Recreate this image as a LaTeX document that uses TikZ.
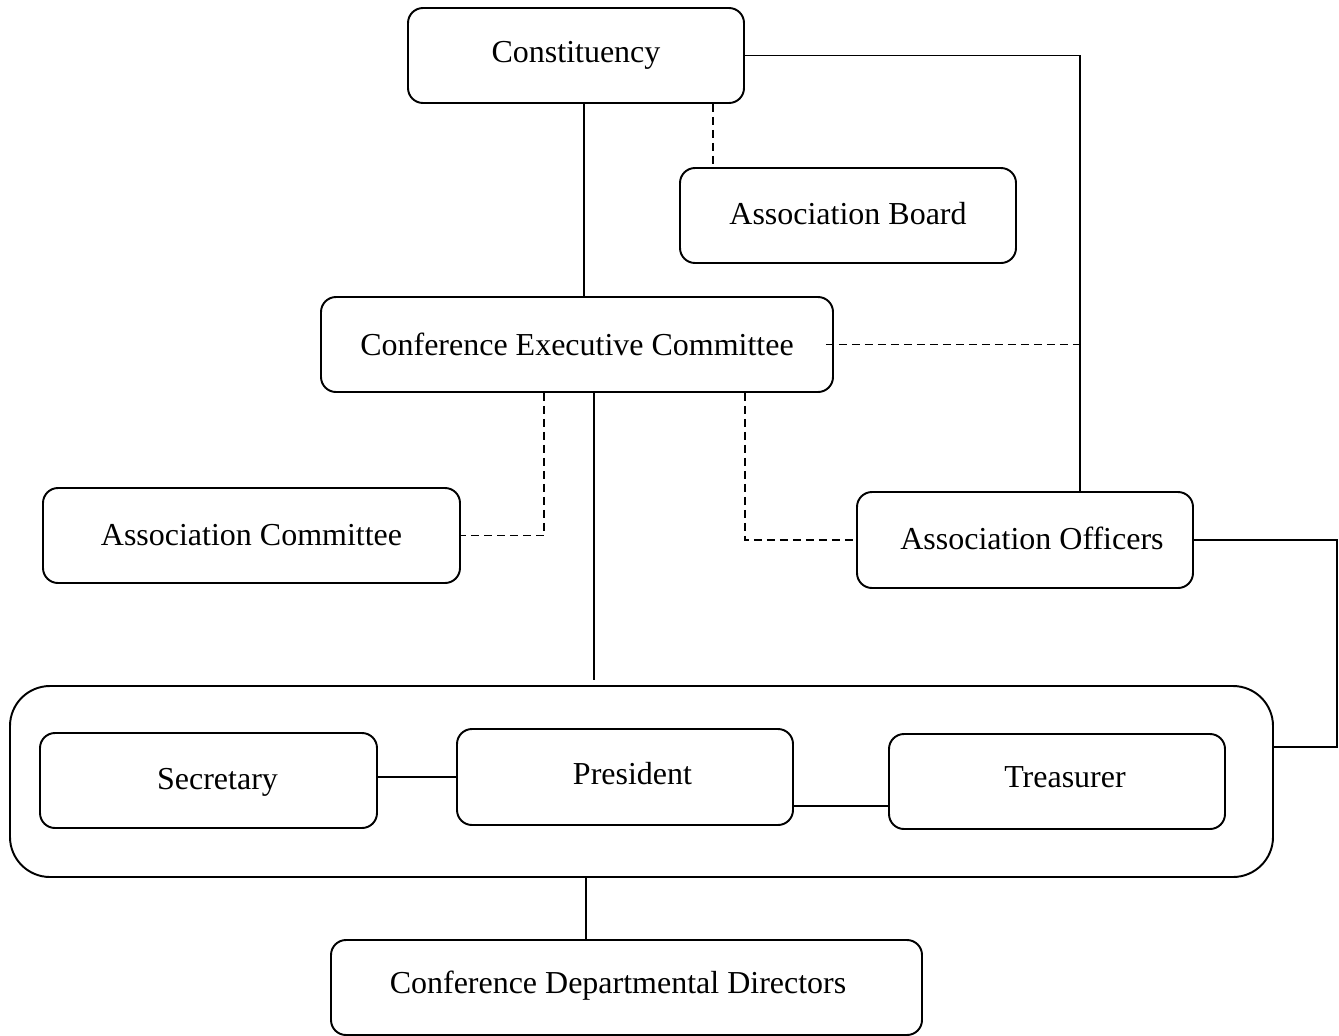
\documentclass[tikz,border=0pt]{standalone}
\usepackage{fontspec}
\setmainfont{Liberation Serif}
\usepackage{tikz}

\tikzset{
  box/.style={draw, rounded corners=0.15cm, minimum width=3.36cm, minimum height=0.95cm,
    inner sep=0pt, line width=0.55pt, font=\fontsize{9.1}{11}\selectfont},
  txt/.style={inner sep=0pt, font=\fontsize{9.1}{11}\selectfont},
  grp/.style={draw, rounded corners=0.4cm, minimum width=12.63cm, minimum height=1.91cm,
    inner sep=0pt, line width=0.55pt},
  dashline/.style={line width=0.55pt, dash pattern=on 0.08cm off 0.05cm},
  solidline/.style={line width=0.55pt}
}

\begin{document}
\begin{tikzpicture}
  \useasboundingbox (0,0) rectangle (13.39,-10.36);

  \node[box] (const) at (5.76,-0.555) {Constituency};
  \node[box, label={[txt, yshift=.02cm]center:Association Board}] (board) at (8.48,-2.155) {};
  \node[box, minimum width=5.12cm] (cec) at (5.77,-3.445) {Conference Executive Committee};
  \node[box, minimum width=4.17cm] (acomm) at (2.515,-5.355) {Association Committee};
  \node[box, minimum height=0.96cm,
    label={[txt, xshift=.07cm, yshift=.02cm]center:Association Officers}] (aoff) at (10.25,-5.40) {};

  % bloc des officiers
  \node[grp] (group) at (6.415,-7.815) {};
  \node[box, minimum width=3.37cm,
    label={[txt, xshift=.09cm, yshift=-.02cm]center:Secretary}] (sec) at (2.085,-7.805) {};
  \node[box, minimum height=0.96cm,
    label={[txt, xshift=.075cm, yshift=.03cm]center:President}] (pres) at (6.25,-7.77) {};
  \node[box, label={[txt, xshift=.08cm, yshift=.04cm]center:Treasurer}] (treas) at (10.57,-7.815) {};

  \node[box, minimum width=5.91cm,
    label={[txt, xshift=-.085cm, yshift=.02cm]center:Conference Departmental Directors}] (cdd) at (6.265,-9.875) {};

  \coordinate (rtop) at (10.80,-0.555);
  \coordinate (rbend) at (13.37,-5.40);

  \draw[solidline] (const.east) -- (rtop) -- (rtop |- aoff.north);
  \draw[solidline] ([xshift=.08cm]const.south) -- ([xshift=.08cm]const.south |- cec.north);
  \draw[dashline] ([xshift=-.32cm]const.south east) -- ([xshift=-.32cm]const.south east |- board.north);
  \draw[dashline] ([xshift=-.08cm]cec.east) -- (cec.east -| rtop);

  \draw[dashline] ([xshift=-.33cm]cec.south) |- (acomm.east);
  \draw[dashline] ([xshift=1.68cm]cec.south) |- (aoff.west);
  \draw[solidline] ([xshift=.17cm]cec.south) -- ([xshift=.17cm,yshift=.05cm]cec.south |- group.north);

  \draw[solidline] (aoff.east) -- (rbend) |- ([yshift=.345cm]group.east);

  \draw[solidline] (pres.west -| sec.east) -- (pres.west);
  \draw[solidline] ([yshift=-.29cm]pres.east) -- ([yshift=-.29cm]pres.east -| treas.west);

  \draw[solidline] ([xshift=-.555cm]group.south) -- ([xshift=-.555cm]group.south |- cdd.north);
\end{tikzpicture}
\end{document}
